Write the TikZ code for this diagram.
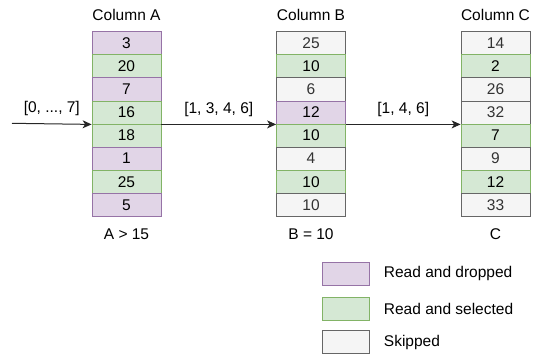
\documentclass[tikz,border=0pt]{standalone}
\usepackage{fontspec}
\setmainfont{Liberation Sans}
\usetikzlibrary{arrows.meta}
\usetikzlibrary{positioning}

\definecolor{dropfill}{HTML}{E1D5E7}
\definecolor{dropline}{HTML}{9673A6}
\definecolor{selfill}{HTML}{D5E8D4}
\definecolor{selline}{HTML}{82B366}
\definecolor{skipfill}{HTML}{F5F5F5}
\definecolor{skipline}{HTML}{666666}
\definecolor{skiptext}{HTML}{333333}

\tikzset{
  cell/.style={minimum width=69pt,minimum height=23.1pt,inner sep=0pt,line width=0.8pt},
  dropcell/.style={cell,fill=dropfill,draw=dropline},
  selcell/.style={cell,fill=selfill,draw=selline},
  skipcell/.style={cell,fill=skipfill,draw=skipline,text=skiptext},
  keybox/.style={minimum width=47pt,minimum height=23pt},
  flow/.style={line width=1pt,draw=black!85,-{Stealth[length=9pt,width=8pt,inset=2.5pt]}},
}

\begin{document}
\begin{tikzpicture}[x=1pt,y=-1pt,font=\fontsize{15.5}{18}\selectfont]
        \useasboundingbox (0,0) rectangle (538,354);
        % columns
        \node (ta) at (126.5,15) {Column A};
        \node (tb) at (311,15) {Column B};
        \node (tc) at (495.5,15) {Column C};
        \foreach \v/\s [count=\i] in {3/drop,20/sel,7/drop,16/sel,18/sel,1/drop,25/sel,5/drop}
            \node[\s cell] (a\i) at (126.5,{31.6+23.1*(\i-0.5)}) {\v};
        \foreach \v/\s [count=\i] in {25/skip,10/sel,6/skip,12/drop,10/sel,4/skip,10/sel,10/skip}
            \node[\s cell] (b\i) at (311,{31.6+23.1*(\i-0.5)}) {\v};
        \foreach \v/\s [count=\i] in {14/skip,2/sel,26/skip,32/skip,7/sel,9/skip,12/sel,33/skip}
            \node[\s cell] (c\i) at (495.5,{31.6+23.1*(\i-0.5)}) {\v};
        \node (fa) at (126.5,234) {A > 15};
        \node (fb) at (311,234) {B = 10};
        \node (fc) at (495.5,234) {C};
        % flows
        \coordinate (in) at (12,123.3);
        \draw[flow] (in) -- (a4.south west) node[midway,above=4pt] (la) {[0, ..., 7]};
        \draw[flow] (a4.south east) -- (b4.south west) node[midway,above=4pt] (lb) {[1, 3, 4, 6]};
        \draw[flow] (b4.south east) -- (c4.south west) node[midway,above=4pt] (lc) {[1, 4, 6]};
        % legend
        \node[dropcell,keybox] (kd) at (345.5,273.5) {};
        \node[selcell,keybox] (ks) at (345.5,308.5) {};
        \node[skipcell,keybox] (kk) at (345.5,342) {};
        \node[right=11pt of kd.east,anchor=west] (td) {Read and dropped};
        \node[right=11pt of ks.east,anchor=west] (ts) {Read and selected};
        \node[right=11pt of kk.east,anchor=west] (tk) {Skipped};
    \end{tikzpicture}
\end{document}
